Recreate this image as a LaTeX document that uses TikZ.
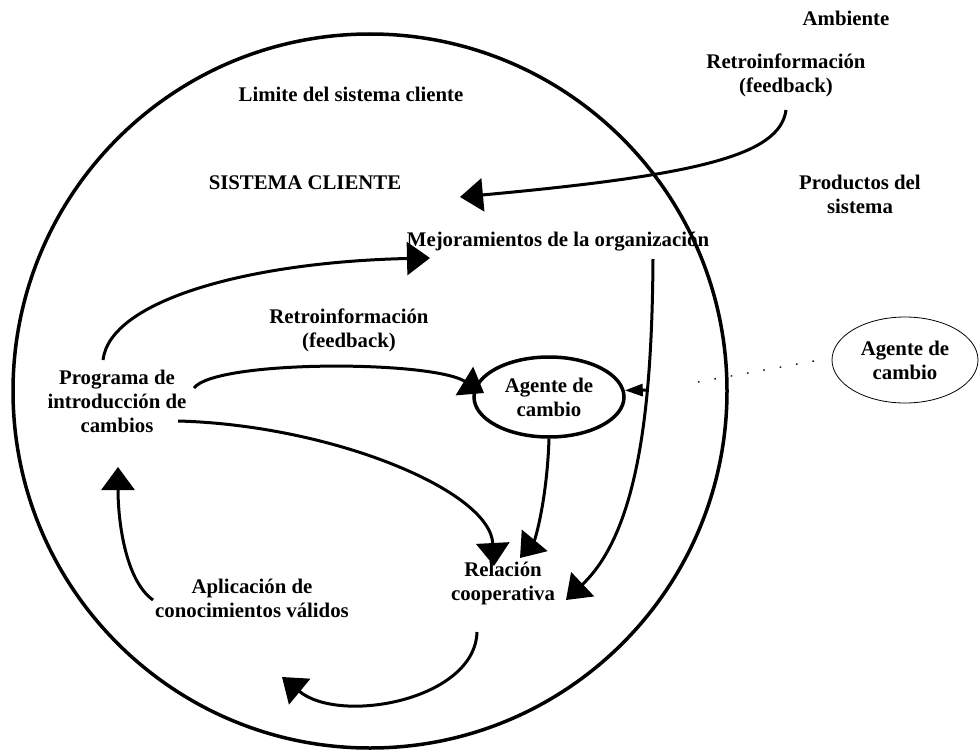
\documentclass[tikz,border=0pt]{standalone}
\usepackage{fontspec}
\setmainfont{Liberation Serif}
\usetikzlibrary{arrows.meta,shapes.geometric}
\begin{document}
\begin{tikzpicture}[x=1pt,y=-1pt,
  lbl/.style={font=\bfseries\fontsize{20.8}{24}\selectfont, align=center, inner sep=0pt},
  flow/.style={line width=3pt, -{Triangle[length=23pt,width=33pt]}},
  tiny/.style={line width=3pt, -{Triangle[length=18pt,width=12pt]}},
  dotline/.style={line width=1.3pt, dash pattern=on 1.6pt off 15pt}]
\useasboundingbox (0,0) rectangle (980,752);

% boundary of the client system
\node[circle, draw, line width=3.5pt, minimum size=714pt, inner sep=0pt] (sys) at (370,391) {};

% labels
\node[lbl] (amb)  at (846,18)  {Ambiente};
\node[lbl] (fbtop) at (786,75) {Retroinformación\\(feedback)};
\node[lbl] (lim)  at (351,94)  {Limite del sistema cliente};
\node[lbl] (sc)   at (305,183) {SISTEMA CLIENTE};
\node[lbl] (prod) at (860,194) {Productos del\\sistema};
\node[lbl] (mej)  at (558,242) {Mejoramientos de la organización};
\node[lbl] (fbmid) at (349,330) {Retroinformación\\(feedback)};
\node[lbl] (prog) at (117,401) {Programa de\\introducción de\\cambios};
\node[lbl] (rel)  at (503,583) {Relación\\cooperativa};
\node[lbl] (apl)  at (252,598) {Aplicación de\\conocimientos válidos};

% change agents
\node[lbl, ellipse, draw, line width=3.5pt, minimum width=150pt, minimum height=80pt] (ag) at (549,397) {Agente de\\cambio};
\node[lbl, ellipse, draw, line width=0.8pt, minimum width=146pt, minimum height=86pt] (ag2) at (905,360) {Agente de\\cambio};

% connector end points
\coordinate (fbs)  at (786,110);
\coordinate (fbe)  at (460,197);
\coordinate (p1)   at (103,360);
\coordinate (m1)   at (430,258);
\coordinate (p2)   at (194,388);
\coordinate (a1)   at (484,393);
\coordinate (p3)   at (178,421);
\coordinate (r1)   at (494,566);
\coordinate (r2)   at (520,558);
\coordinate (m2)   at (653,259);
\coordinate (r3)   at (566,600);
\coordinate (j)    at (646,390);
\coordinate (r4)   at (477,632);
\coordinate (ap1)  at (282,677);
\coordinate (ap2)  at (153,600);
\coordinate (p4)   at (118,467);
\coordinate (dst)  at (698,382);

% feedback from the environment
\draw[flow] (fbs) .. controls (780,155) and (700,175) .. (fbe);
% program -> improvements
\draw[flow] (p1) .. controls (110,300) and (250,262) .. (m1);
% program -> change agent
\draw[flow] (p2) .. controls (215,360) and (430,360) .. (a1);
% program -> cooperative relation
\draw[flow] (p3) .. controls (330,425) and (490,490) .. (r1);
% change agent -> cooperative relation
\draw[flow] (ag.south) .. controls (547,500) and (535,540) .. (r2);
% improvements -> cooperative relation
\draw[flow] (m2) .. controls (652,400) and (640,530) .. (r3);
% branch into the change agent
\draw[tiny] (j) -- (ag.5);
% cooperative relation -> application of knowledge
\draw[flow] (r4) .. controls (475,700) and (340,725) .. (ap1);
% application of knowledge -> program
\draw[flow] (ap2) .. controls (125,580) and (118,520) .. (p4);

% link to the outside change agent
\draw[dotline] (dst) -- ([xshift=-12pt]ag2.west);
\end{tikzpicture}
\end{document}
